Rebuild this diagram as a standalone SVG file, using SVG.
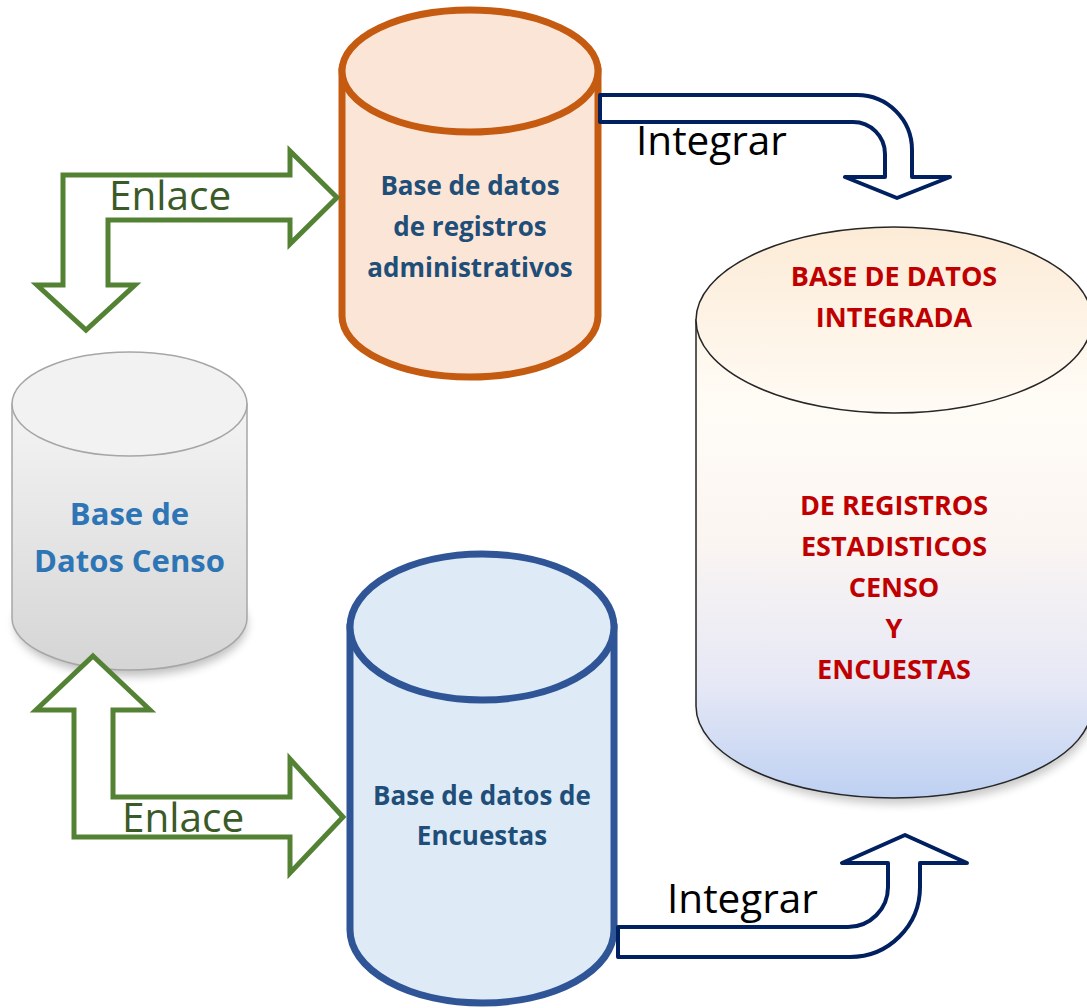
<svg xmlns="http://www.w3.org/2000/svg" width="1087" height="1008" viewBox="0 0 1087 1008">
<defs>
<style>
.lbl{font-family:"Open Sans","Liberation Sans",sans-serif;font-weight:bold;text-anchor:middle}
.dark{fill:#1F4E79;font-size:26px}
.censo{fill:#2E75B6;font-size:31px}
.red{fill:#C00000;font-size:27px}
.link{font-family:"Open Sans","Liberation Sans",sans-serif;font-size:40.5px;fill:#3A5A27}
.integ{font-family:"Open Sans","Liberation Sans",sans-serif;font-size:40.5px;fill:#000}
.green{fill:#fff;stroke:#548235;stroke-width:5;stroke-linejoin:miter}
.navy{fill:#fff;stroke:#002060;stroke-width:4;stroke-linejoin:round}
</style>
<linearGradient id="gGrey" x1="0" y1="0" x2="0" y2="1">
<stop offset="0" stop-color="#F4F4F4"/>
<stop offset="1" stop-color="#D5D5D5"/>
</linearGradient>
<linearGradient id="gInt" gradientUnits="userSpaceOnUse" x1="0" y1="226" x2="0" y2="800">
<stop offset="0" stop-color="#FCEBD6"/>
<stop offset="0.3" stop-color="#FFFCF6"/>
<stop offset="0.55" stop-color="#FBF5F2"/>
<stop offset="0.8" stop-color="#E6E8F6"/>
<stop offset="1" stop-color="#BDD0F2"/>
</linearGradient>
<linearGradient id="gIntTop" gradientUnits="userSpaceOnUse" x1="0" y1="226" x2="0" y2="414">
<stop offset="0" stop-color="#FCEBD6"/>
<stop offset="1" stop-color="#FFFBF5"/>
</linearGradient>
<filter id="shadow" x="-20%" y="-20%" width="140%" height="140%">
<feGaussianBlur stdDeviation="5"/>
</filter>
</defs>

<g id="node-censo">
<ellipse cx="131" cy="624" rx="116" ry="52" fill="#000" opacity="0.25" filter="url(#shadow)"/>
<path d="M12,404 L12,618 A117.5,52 0 0 0 247,618 L247,404 Z" fill="url(#gGrey)" stroke="#A6A6A6" stroke-width="1.5"/>
<ellipse cx="129.5" cy="404" rx="117.5" ry="52" fill="#F2F2F2" stroke="#A6A6A6" stroke-width="1.5"/>
<text class="lbl censo" x="129.5" y="525">Base de</text>
<text class="lbl censo" x="129.5" y="572">Datos Censo</text>
</g>

<g id="node-admin">
<path d="M342,71 L342,316 A128,61 0 0 0 598,316 L598,71 Z" fill="#FBE5D6" stroke="#C55A11" stroke-width="7"/>
<ellipse cx="470" cy="71" rx="128" ry="61" fill="#FBE5D6" stroke="#C55A11" stroke-width="7"/>
<text class="lbl dark" x="470" y="195">Base de datos</text>
<text class="lbl dark" x="470" y="236">de registros</text>
<text class="lbl dark" x="470" y="277">administrativos</text>
</g>

<g id="node-encuestas">
<path d="M350,627 L350,930 A132,73 0 0 0 614,930 L614,627 Z" fill="#DEEBF7" stroke="#2F5597" stroke-width="7"/>
<ellipse cx="482" cy="627" rx="132" ry="73" fill="#DEEBF7" stroke="#2F5597" stroke-width="7"/>
<text class="lbl dark" x="482" y="805">Base de datos de</text>
<text class="lbl dark" x="482" y="845">Encuestas</text>
</g>

<g id="node-integrada">
<ellipse cx="897" cy="712" rx="196" ry="92" fill="#000" opacity="0.22" filter="url(#shadow)"/>
<path d="M696,320 L696,706 A198,92 0 0 0 1092,706 L1092,320 Z" fill="url(#gInt)" stroke="#262626" stroke-width="1.5"/>
<ellipse cx="894" cy="320" rx="198" ry="93" fill="url(#gIntTop)" stroke="#262626" stroke-width="1.5"/>
<text class="lbl red" x="894" y="286">BASE DE DATOS</text>
<text class="lbl red" x="894" y="327">INTEGRADA</text>
<text class="lbl red" x="894" y="515">DE REGISTROS</text>
<text class="lbl red" x="894" y="556">ESTADISTICOS</text>
<text class="lbl red" x="894" y="597">CENSO</text>
<text class="lbl red" x="894" y="638">Y</text>
<text class="lbl red" x="894" y="679">ENCUESTAS</text>
</g>

<g id="connectors">
<path class="green" d="M63,175 L290,175 L290,151 L337,197.5 L290,244 L290,220 L108,220 L108,285 L135,285 L86,330 L37,285 L63,285 Z"/>
<path class="green" d="M93,656 L150,710 L113,710 L113,797 L290,797 L290,759 L343,817 L290,873 L290,837 L74,837 L74,710 L36,710 Z"/>
<path class="navy" d="M600,95 L857,95 A55,55 0 0 1 912,150 L912,177 L950,177 L897,198 L845,177 L885,177 L885,154 A32,32 0 0 0 853,122 L600,122 Z"/>
<path class="navy" d="M618,957 L850,957 A70,70 0 0 0 920,887 L920,863 L967,863 L905,835 L842,863 L888,863 L888,887 A40,40 0 0 1 848,927 L618,927 Z"/>
<text class="link" x="109" y="210">Enlace</text>
<text class="link" x="122" y="832">Enlace</text>
<text class="integ" x="636" y="155">Integrar</text>
<text class="integ" x="667" y="913">Integrar</text>
</g>
</svg>
